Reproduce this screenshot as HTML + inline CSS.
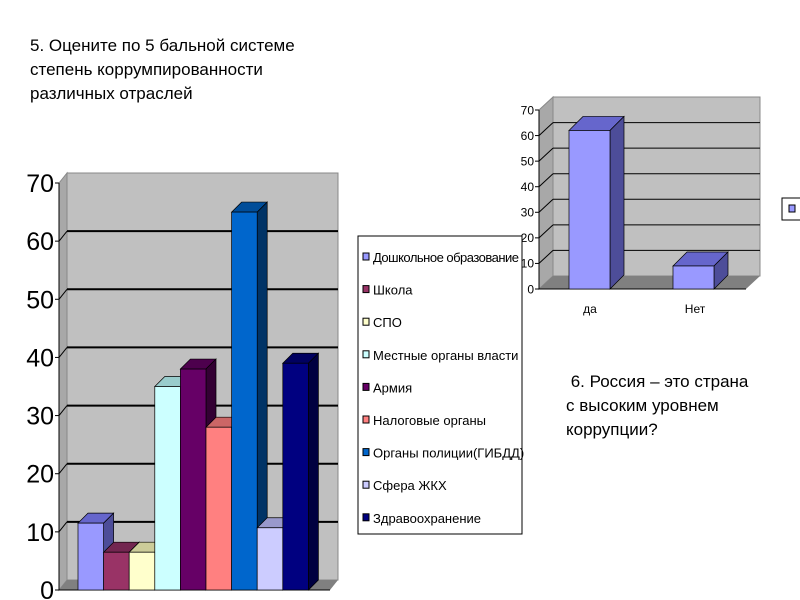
<!DOCTYPE html>
<html><head><meta charset="utf-8"><style>
body{margin:0;background:#fff;width:800px;height:600px;overflow:hidden;font-family:"Liberation Sans",sans-serif}
.t{position:absolute;font-size:17px;line-height:24px;color:#000}
</style></head><body>
<div class="t" style="left:30px;top:34px">5. Оцените по 5 бальной системе<br>степень коррумпированности<br>различных отраслей</div>
<div class="t" style="left:566px;top:370px">&nbsp;6. Россия – это страна<br>с высоким уровнем<br>коррупции?</div>
<svg id="s" width="800" height="600" style="position:absolute;left:0;top:0"></svg>
<script>
const cats1=["Дошкольное образование","Школа","СПО","Местные органы власти","Армия","Налоговые органы","Органы полиции(ГИБДД)","Сфера ЖКХ","Здравоохранение"];
const vals1=[11.5,6.5,6.5,35,38,28,65,10.7,39];
const ticks1=[0,10,20,30,40,50,60,70];
const cats2=["да","Нет"];
const vals2=[62,9];
const ticks2=[0,10,20,30,40,50,60,70];
const cols=[["#9999ff","#6666cc","#4d4d99"],["#993366","#732650","#4d1a33"],["#ffffcc","#cccc99","#999977"],["#ccffff","#99cccc","#669999"],["#660066","#4d004d","#330033"],["#ff8080","#cc6666","#994d4d"],["#0066cc","#004d99","#003366"],["#ccccff","#9999cc","#666699"],["#000080","#000060","#000040"]];
const S=document.getElementById('s');const NS='http://www.w3.org/2000/svg';
function el(t,a,n){const e=document.createElementNS(NS,t);for(const k in a)e.setAttribute(k,a[k]);S.appendChild(e);return e;}
function chart(o){
 const y=v=>o.y0-(v/o.max)*(o.y0-o.yTop);
 const dx=o.dx,dy=o.dy;
 // back wall
 el('polygon',{points:`${o.x0},${o.y0} ${o.x0+dx},${o.y0+dy} ${o.x0+dx},${o.yTop+dy} ${o.x0},${o.yTop}`,fill:'#a8a8a8',stroke:'#888'},'side-wall');
 el('rect',{x:o.x0+dx,y:o.yTop+dy,width:o.x1-o.x0,height:o.y0-o.yTop,fill:'#c0c0c0',stroke:'#888'},'back-wall');
 el('polygon',{points:`${o.x0},${o.y0} ${o.x1},${o.y0} ${o.x1+dx},${o.y0+dy} ${o.x0+dx},${o.y0+dy}`,fill:'#808080'},'floor');
 o.ticks.forEach(t=>{
  const yy=y(t);
  if(t>0&&t<o.max){el('line',{x1:o.x0+dx,x2:o.x1+dx,y1:yy+dy,y2:yy+dy,stroke:'#000','stroke-width':o.gw},'gridline');
   el('line',{x1:o.x0,x2:o.x0+dx,y1:yy,y2:yy+dy,stroke:'#000','stroke-width':1},'gridline-side');}
  el('line',{x1:o.x0-4,x2:o.x0,y1:yy,y2:yy,stroke:'#000'},'y-tick');
  const tx=el('text',{x:o.x0-5,y:yy+o.fs*0.36,'text-anchor':'end','font-size':o.fs,'font-family':'Liberation Sans Narrow, Liberation Sans, sans-serif'},'y-tick-label');tx.textContent=t;
 });
 el('line',{x1:o.x0,x2:o.x0,y1:o.yTop,y2:o.y0,stroke:'#000'},'y-axis');
 el('line',{x1:o.x0,x2:o.x1,y1:o.y0,y2:o.y0,stroke:'#000'},'x-axis');
 o.vals.forEach((v,i)=>{
  const bx=o.bx(i),bw=o.bw,by=y(v),c=o.col(i),bd=o.bd;
  el('polygon',{points:`${bx},${by} ${bx+bd},${by-bd} ${bx+bw+bd},${by-bd} ${bx+bw},${by}`,fill:c[1],stroke:'#000','stroke-width':0.7},'bar-top');
  el('polygon',{points:`${bx+bw},${by} ${bx+bw+bd},${by-bd} ${bx+bw+bd},${o.y0-bd} ${bx+bw},${o.y0}`,fill:c[2],stroke:'#000','stroke-width':0.7},'bar-side');
  el('rect',{x:bx,y:by,width:bw,height:o.y0-by,fill:c[0],stroke:'#000','stroke-width':0.7},'bar-'+i);
 });
}
chart({x0:59,x1:330,y0:590,yTop:183,max:70,dx:8,dy:-10,ticks:ticks1,vals:vals1,fs:25,gw:2,bw:25.6,bd:10,bx:i=>78+i*25.6,col:i=>cols[i]});
chart({x0:539,x1:746,y0:289,yTop:110,max:70,dx:14,dy:-13,ticks:ticks2,vals:vals2,fs:12,gw:1,bw:41,bd:14,bx:i=>569+i*104,col:()=>cols[0]});
cats2.forEach((c,i)=>{const t=el('text',{x:590+i*105,y:313,'text-anchor':'middle','font-size':12},'x-label');t.textContent=c;});
// legend 1
el('rect',{x:358,y:236,width:164,height:298,fill:'#fff',stroke:'#000'},'legend-box');
cats1.forEach((c,i)=>{const yy=258+i*32.6;
 el('rect',{x:363,y:yy-5,width:6,height:7,fill:cols[i][0],stroke:'#000','stroke-width':1},'legend-swatch');
 const t=el('text',{x:373,y:yy+4,'font-size':13,'font-family':'Liberation Sans Narrow, Liberation Sans, sans-serif',textLength:c.length>14?146:undefined},'legend-entry');
 if(c==="Дошкольное образование")t.setAttribute('textLength',146);else t.removeAttribute('textLength');
 t.textContent=c;});
el('rect',{x:782,y:198,width:20,height:22,fill:'#fff',stroke:'#000'},'legend-box-2');
el('rect',{x:789,y:205,width:6,height:7,fill:'#9999ff',stroke:'#000'},'legend-swatch-2');
</script>
</body></html>
